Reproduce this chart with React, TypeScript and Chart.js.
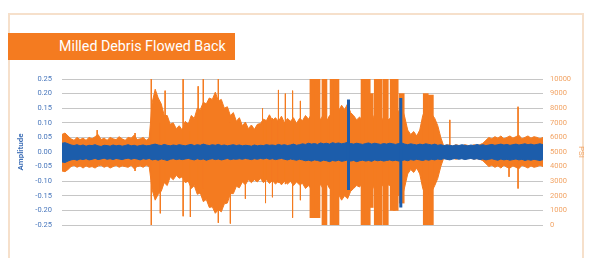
import { useEffect, useRef } from 'react';
import { Chart, registerables } from 'chart.js';

Chart.register(...registerables);

const chartTitle = 'Milled Debris Flowed Back';
const leftAxisTitle = 'Amplitude';
const rightAxisTitle = 'PSI';

// Orange pressure signal envelope (PSI), one pair per sample
const orangeHigh = [
  6200, 6300, 6100, 5900, 5800, 6000, 5850, 5950, 5800, 6000,
  5900, 6050, 6200, 5850, 5950, 5800, 6000, 5900, 5850, 6050,
  5900, 5800, 6000, 5950, 6150, 5850, 5900, 6000, 5800, 5950,
  8400, 9300, 8700, 8300, 7500, 7500, 6900, 7000, 6600, 6800,
  6500, 7100, 6900, 7500, 7300, 8000, 7900, 8400, 8300, 8700,
  8600, 9100, 8500, 8600, 8000, 8100, 7500, 7700, 7100, 7350,
  6800, 7050, 6600, 6850, 6550, 6900, 6950, 7250, 7150, 7550,
  7150, 7350, 7100, 7450, 7000, 7300, 7100, 7350, 6950, 7300,
  7150, 7500, 7250, 7600, 7300, 7700, 7200, 7600, 7100, 7500,
  7200, 7600, 7800, 8200, 7900, 8300, 7700, 7500, 7200, 7400,
  7100, 7500, 7300, 7700, 7200, 7600, 7000, 7400, 7100, 7300,
  7200, 7600, 7800, 8100, 7400, 6500, 6200, 6400, 6100, 6500,
  7500, 8000, 7800, 7600, 7300, 6800, 6000, 5400, 5500, 5450,
  5400, 5500, 5450, 5400, 5500, 5450, 5400, 5500, 5450, 5500,
  5600, 5800, 6000, 5900, 6050, 5950, 6100, 5900, 6000, 6100,
  5950, 6050, 6150, 5900, 6000, 6100, 5950, 6050, 6000, 5900, 6000,
];
const orangeLow = [
  3700, 3650, 3800, 4000, 4100, 3950, 4050, 3900, 4050, 3950,
  4000, 3900, 4050, 4100, 3950, 4050, 3900, 4000, 4100, 3950,
  4050, 4000, 3950, 4100, 3850, 4000, 4050, 3950, 4100, 4000,
  2400, 1700, 2100, 2300, 2900, 2700, 3300, 3100, 3400, 3200,
  3300, 2900, 3000, 2500, 2700, 2100, 2200, 1600, 1750, 1200,
  1250, 800, 1050, 900, 1450, 1500, 2150, 2150, 2650, 2550,
  2950, 2750, 3100, 2900, 3100, 2950, 3200, 2900, 3100, 2850,
  3050, 2800, 3000, 2750, 3000, 2800, 3000, 2700, 2950, 2750,
  2850, 2500, 2700, 2450, 2700, 2300, 2800, 2400, 2900, 2500,
  2800, 2400, 2100, 1700, 2000, 1800, 2300, 2500, 2700, 2600,
  2900, 2500, 2700, 2300, 2800, 2400, 2900, 2600, 2800, 2700,
  2600, 2300, 2000, 1800, 2600, 3500, 3800, 3600, 3900, 3500,
  2500, 2000, 2100, 2300, 2700, 3200, 4000, 4600, 4500, 4550,
  4600, 4500, 4550, 4600, 4500, 4550, 4600, 4500, 4550, 4500,
  4400, 4200, 4000, 4100, 3950, 4050, 3900, 4100, 3950, 3900,
  4050, 3950, 3850, 4100, 4000, 3900, 4050, 3950, 4000, 4100, 4000,
];

// Saturated orange bursts (sample position, top PSI, bottom PSI)
const burstAt = [83.3, 85, 87.3, 90, 91.3, 100.3, 101.7, 102.7, 104.7, 105.7, 107.7, 110, 111, 113, 121, 122.7];
const burstTop = [10000, 10000, 10000, 10000, 10000, 10000, 10000, 9000, 10000, 10000, 10000, 10000, 10000, 9000, 9000, 8900];
const burstBottom = [500, 500, 0, 0, 0, 0, 0, 1200, 0, 0, 0, 1000, 1000, 1500, 0, 0];

// Thin orange transients (sample position, top PSI, bottom PSI)
const orangeSpikeAt = [11.7, 24.3, 29.7, 32.7, 34.3, 40.3, 42.7, 45.3, 47, 52, 56, 61, 66.7, 67.7, 70, 72, 74.3, 76.7, 79.3, 129, 148.7, 151.7];
const orangeSpikeTop = [6500, 6300, 10000, 7000, 9200, 10000, 6500, 9500, 10000, 10000, 7000, 7000, 8000, 7000, 7300, 9250, 9000, 9200, 8500, 7200, 5000, 8100];
const orangeSpikeBottom = [4000, 3700, 0, 800, 3000, 600, 550, 2500, 2500, 150, 100, 1800, 3000, 1500, 1900, 2900, 2800, 500, 1700, 5000, 3300, 2500];

// Blue amplitude envelope
const blueHigh = [
  0.030, 0.032, 0.028, 0.024, 0.022, 0.025, 0.021, 0.024, 0.020, 0.023,
  0.022, 0.025, 0.021, 0.019, 0.023, 0.022, 0.020, 0.024, 0.021, 0.023,
  0.020, 0.022, 0.025, 0.021, 0.023, 0.020, 0.022, 0.024, 0.021, 0.022,
  0.025, 0.027, 0.024, 0.022, 0.026, 0.023, 0.021, 0.024, 0.022, 0.025,
  0.023, 0.021, 0.024, 0.026, 0.022, 0.025, 0.023, 0.027, 0.024, 0.022,
  0.025, 0.023, 0.026, 0.022, 0.024, 0.021, 0.023, 0.025, 0.022, 0.024,
  0.021, 0.023, 0.022, 0.020, 0.024, 0.021, 0.023, 0.022, 0.025, 0.023,
  0.024, 0.022, 0.026, 0.023, 0.025, 0.022, 0.024, 0.027, 0.023, 0.025,
  0.028, 0.026, 0.030, 0.027, 0.029, 0.026, 0.031, 0.028, 0.030, 0.027,
  0.032, 0.029, 0.031, 0.028, 0.030, 0.033, 0.029, 0.027, 0.030, 0.028,
  0.026, 0.029, 0.031, 0.027, 0.030, 0.028, 0.026, 0.029, 0.027, 0.030,
  0.028, 0.026, 0.029, 0.031, 0.027, 0.025, 0.028, 0.026, 0.024, 0.027,
  0.025, 0.028, 0.026, 0.024, 0.027, 0.023, 0.025, 0.022, 0.024, 0.023,
  0.021, 0.024, 0.022, 0.025, 0.023, 0.021, 0.024, 0.022, 0.026, 0.023,
  0.025, 0.022, 0.024, 0.026, 0.023, 0.025, 0.027, 0.024, 0.026, 0.023,
  0.025, 0.027, 0.024, 0.026, 0.028, 0.025, 0.027, 0.024, 0.026, 0.028, 0.025,
];
const blueLow = [
  -0.034, -0.036, -0.031, -0.027, -0.025, -0.028, -0.024, -0.026, -0.023, -0.027,
  -0.025, -0.022, -0.026, -0.024, -0.021, -0.025, -0.023, -0.026, -0.022, -0.024,
  -0.026, -0.023, -0.021, -0.025, -0.022, -0.024, -0.027, -0.023, -0.025, -0.022,
  -0.027, -0.025, -0.028, -0.024, -0.026, -0.029, -0.025, -0.023, -0.026, -0.024,
  -0.026, -0.024, -0.022, -0.025, -0.027, -0.023, -0.026, -0.024, -0.028, -0.025,
  -0.023, -0.026, -0.024, -0.027, -0.025, -0.022, -0.026, -0.024, -0.025, -0.023,
  -0.025, -0.022, -0.024, -0.026, -0.023, -0.025, -0.022, -0.024, -0.021, -0.025,
  -0.023, -0.026, -0.024, -0.022, -0.025, -0.027, -0.024, -0.026, -0.028, -0.025,
  -0.027, -0.030, -0.028, -0.031, -0.027, -0.029, -0.032, -0.028, -0.030, -0.033,
  -0.029, -0.031, -0.028, -0.032, -0.030, -0.027, -0.031, -0.029, -0.033, -0.030,
  -0.028, -0.031, -0.029, -0.032, -0.027, -0.030, -0.028, -0.031, -0.029, -0.027,
  -0.030, -0.028, -0.031, -0.029, -0.027, -0.030, -0.026, -0.028, -0.025, -0.027,
  -0.029, -0.026, -0.028, -0.025, -0.027, -0.024, -0.026, -0.023, -0.025, -0.027,
  -0.024, -0.022, -0.025, -0.023, -0.026, -0.024, -0.022, -0.025, -0.023, -0.026,
  -0.024, -0.027, -0.025, -0.023, -0.026, -0.028, -0.024, -0.027, -0.025, -0.028,
  -0.026, -0.024, -0.027, -0.025, -0.029, -0.026, -0.028, -0.025, -0.027, -0.029, -0.026,
];

// Blue transients
const blueSpikeAt = [95.3, 112.7];
const blueSpikeTop = [0.18, 0.185];
const blueSpikeBottom = [-0.13, -0.19];

const ORANGE = '#f47b20';
const BLUE = '#1c5dab';

function segments(at: number[], top: number[], bottom: number[]) {
  const pts: { x: number; y: number | null }[] = [];
  at.forEach((x, i) => {
    pts.push({ x, y: top[i] });
    pts.push({ x, y: bottom[i] });
    pts.push({ x, y: null });
  });
  return pts;
}

export default function App() {
  const canvasRef = useRef<HTMLCanvasElement | null>(null);

  useEffect(() => {
    document.body.style.margin = '0';
    const canvas = canvasRef.current;
    if (!canvas) return;
    const toPts = (arr: number[]) => arr.map((y, i) => ({ x: i, y }));
    const chart = new Chart(canvas, {
      type: 'line',
      data: {
        datasets: [
          {
            data: segments(blueSpikeAt, blueSpikeTop, blueSpikeBottom),
            yAxisID: 'y',
            borderColor: BLUE,
            borderWidth: 3,
            spanGaps: false,
            fill: false,
          },
          {
            data: toPts(blueHigh),
            yAxisID: 'y',
            borderColor: BLUE,
            backgroundColor: BLUE,
            borderWidth: 1,
            fill: '+1',
          },
          {
            data: toPts(blueLow),
            yAxisID: 'y',
            borderColor: BLUE,
            borderWidth: 1,
            fill: false,
          },
          {
            type: 'bar',
            data: burstAt.map((x, i) => ({ x, y: [burstBottom[i], burstTop[i]] })),
            yAxisID: 'y1',
            backgroundColor: ORANGE,
            borderWidth: 0,
            barThickness: 5,
          },
          {
            data: segments(orangeSpikeAt, orangeSpikeTop, orangeSpikeBottom),
            yAxisID: 'y1',
            borderColor: ORANGE,
            borderWidth: 1,
            spanGaps: false,
            fill: false,
          },
          {
            data: toPts(orangeHigh),
            yAxisID: 'y1',
            borderColor: ORANGE,
            backgroundColor: ORANGE,
            borderWidth: 1,
            fill: '+1',
          },
          {
            data: toPts(orangeLow),
            yAxisID: 'y1',
            borderColor: ORANGE,
            borderWidth: 1,
            fill: false,
          },
        ],
      },
      options: {
        animation: false,
        responsive: false,
        events: [],
        elements: { point: { radius: 0 }, line: { tension: 0 } },
        layout: { padding: { left: 14, right: 5, top: 79, bottom: 33 } },
        plugins: { legend: { display: false }, tooltip: { enabled: false } },
        scales: {
          x: { type: 'linear', min: 0, max: 160, display: false, offset: false },
          y: {
            position: 'left',
            min: -0.25,
            max: 0.25,
            afterFit: (s: any) => { s.width = 48; },
            border: { display: false },
            grid: { color: '#c6c6c6', lineWidth: 1, drawTicks: false },
            ticks: {
              stepSize: 0.05,
              padding: 10,
              color: '#4a78bd',
              font: { size: 7.5, family: 'Roboto' },
              callback: (v: any) => (Math.abs(v) < 1e-9 ? '0.00' : Number(v).toFixed(2)),
            },
            title: {
              display: true,
              text: leftAxisTitle,
              color: '#3e6fb6',
              padding: 2,
              font: { size: 8, family: 'Roboto', weight: 'bold' },
            },
          },
          y1: {
            position: 'right',
            min: 0,
            max: 10000,
            afterFit: (s: any) => { s.width = 45; },
            border: { display: false },
            grid: { display: false, drawTicks: false },
            ticks: {
              stepSize: 1000,
              padding: 7,
              color: '#f2a465',
              font: { size: 7.5, family: 'Roboto' },
              callback: (v: any) => String(Math.round(Number(v))),
            },
            title: {
              display: true,
              text: rightAxisTitle,
              color: '#f2a465',
              padding: 2,
              font: { size: 8, family: 'Roboto' },
            },
          },
        },
      },
    } as any);
    return () => chart.destroy();
  }, []);

  return (
    <div style={{ position: 'relative', width: 593, height: 258, background: '#fff', overflow: 'hidden' }}>
      <div
        style={{
          position: 'absolute',
          left: 8,
          top: 13,
          width: 576,
          height: 260,
          border: '2px solid #f6e0cb',
          boxSizing: 'border-box',
        }}
      />
      <canvas ref={canvasRef} width={593} height={258} style={{ position: 'absolute', left: 0, top: 0 }} />
      <div
        style={{
          position: 'absolute',
          left: 8,
          top: 33,
          width: 227,
          height: 27,
          background: ORANGE,
          color: '#fff',
          fontFamily: "'Roboto', sans-serif",
          fontSize: 15,
          lineHeight: '27px',
          paddingLeft: 51,
          boxSizing: 'border-box',
          whiteSpace: 'nowrap',
          overflow: 'hidden',
        }}
      >
        <span style={{ display: 'inline-block', transform: 'scaleX(0.95)', transformOrigin: 'left center' }}>
          {chartTitle}
        </span>
      </div>
    </div>
  );
}
